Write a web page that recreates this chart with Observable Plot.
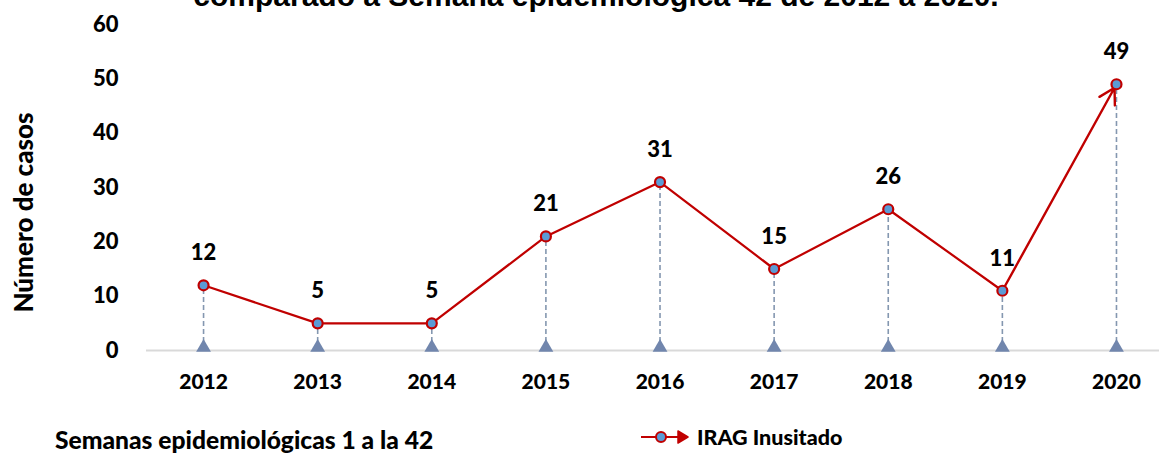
<!DOCTYPE html>
<html>
<head>
<meta charset="utf-8">
<script src="https://cdn.jsdelivr.net/npm/d3@7"></script>
<script src="https://cdn.jsdelivr.net/npm/@observablehq/plot@0.6"></script>
<style>
  html, body { margin: 0; padding: 0; background: #fff; overflow: hidden; }
  #wrap { position: relative; width: 1159px; height: 453px; overflow: hidden; font-family: Lato, "Open Sans", sans-serif; background: #fff; }
  #title { position: absolute; z-index: 2; top: -21px; left: 0; width: 1192px; text-align: center; font-family: "Liberation Sans", Arial, sans-serif; font-weight: bold; font-size: 30px; line-height: 34px; color: #000; white-space: nowrap; }
  #chart { position: absolute; top: 0; left: 0; z-index: 1; }
  #caption { position: absolute; z-index: 2; left: 55px; top: 425px; font-weight: 900; font-size: 24.6px; line-height: 30px; color: #000; white-space: nowrap; }
  #legend { position: absolute; z-index: 2; left: 640px; top: 422px; display: flex; align-items: center; font-weight: 900; font-size: 21.5px; line-height: 30px; color: #000; white-space: nowrap; }
  #legend svg { margin-right: 5px; }
</style>
</head>
<body>
<div id="wrap">
  <div id="title">comparado a Semana epidemiológica 42 de 2012 a 2020.</div>
  <div id="chart"></div>
  <div id="caption">Semanas epidemiológicas 1 a la 42</div>
  <div id="legend">
    <svg width="52" height="20" viewBox="0 0 52 20">
      <line x1="1" y1="10" x2="46" y2="10" stroke="#c00000" stroke-width="2.2"></line>
      <path d="M38,4 L48,10 L38,16 Z" fill="#c00000" stroke="#c00000" stroke-width="1.5" stroke-linejoin="round"></path>
      <circle cx="21" cy="10" r="5" fill="#5b9bd5" stroke="#c00000" stroke-width="2"></circle>
    </svg>
    <span>IRAG Inusitado</span>
  </div>
</div>
<script>
const years = [2012, 2013, 2014, 2015, 2016, 2017, 2018, 2019, 2020];
const casos = [12, 5, 5, 21, 31, 15, 26, 11, 49];
const yTicks = [0, 10, 20, 30, 40, 50, 60];
const seriesName = "IRAG Inusitado";

const data = years.map((y, i) => ({year: y, casos: casos[i]}));
const lineData = data.slice(0, data.length - 1);
const lastSeg = [{x1: data[data.length - 2].year, y1: data[data.length - 2].casos, x2: data[data.length - 1].year, y2: data[data.length - 1].casos}];

const red = "#c00000";
const blue = "#5b9bd5";
const dashCol = "#8497b0";
const triCol = "#7186ad";

const plot = Plot.plot({
  width: 1159,
  height: 400,
  marginLeft: 146,
  marginRight: 0,
  marginTop: 24,
  marginBottom: 50,
  style: {fontFamily: "Lato, 'Open Sans', sans-serif", fontWeight: "900", fontSize: "18px", color: "#000", background: "transparent", overflow: "visible"},
  x: {type: "linear", domain: [2011.5, 2020.377], axis: null},
  y: {domain: [0, 60], axis: null},
  marks: [
    Plot.ruleY([0], {stroke: "#d9d9d9", strokeWidth: 2}),
    Plot.ruleX(data, {x: "year", y1: 0, y2: "casos", stroke: dashCol, strokeWidth: 1.6, strokeDasharray: "5,3"}),
    Plot.dot(years, {x: d => d, y: 0, symbol: "triangle", r: 5.5, fill: triCol, stroke: null, dy: -3}),
    Plot.line(lineData, {x: "year", y: "casos", stroke: red, strokeWidth: 2.2}),
    Plot.arrow(lastSeg, {x1: "x1", y1: "y1", x2: "x2", y2: "y2", stroke: red, strokeWidth: 2.4, headLength: 11, insetEnd: 4}),
    Plot.dot(data, {x: "year", y: "casos", r: 5, fill: blue, stroke: red, strokeWidth: 2.2}),
    Plot.text(data, {x: "year", y: "casos", text: d => String(d.casos), dy: -32, fontSize: 22, fontWeight: "900", fill: "#000"}),
    Plot.text(years, {x: d => d, y: 0, text: d => String(d), dy: 32, fontSize: 21, fontWeight: "900", fill: "#000"}),
    Plot.text(yTicks, {x: 2011.5, y: d => d, text: d => String(d), dx: -28, textAnchor: "end", fontSize: 22, fontWeight: "900", fill: "#000"}),
    Plot.text(["Número de casos"], {frameAnchor: "left", textAnchor: "middle", dx: -122, dy: 25, rotate: -90, fontSize: 26, fontWeight: "900", fill: "#000"})
  ]
});
document.getElementById("chart").appendChild(plot);
</script>
</body>
</html>
